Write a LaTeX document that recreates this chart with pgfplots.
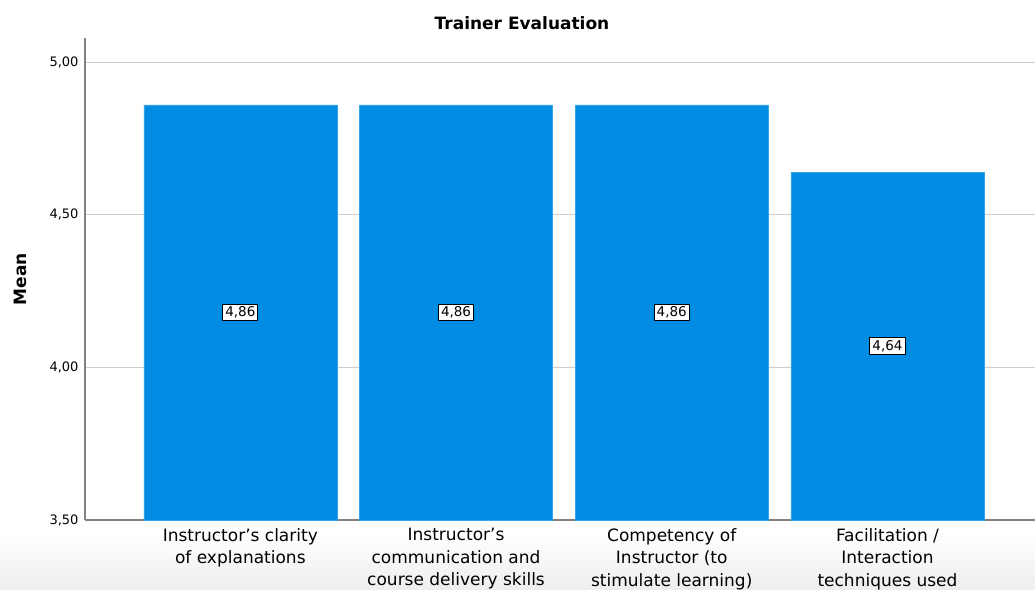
\documentclass[border=0pt]{standalone}
\usepackage{pgfplots}
\pgfplotsset{compat=1.18}
\usepackage{fontspec}
\setmainfont{DejaVu Sans}
\definecolor{barblue}{RGB}{0,140,226}
\definecolor{gridgray}{RGB}{205,205,205}
\definecolor{axisgray}{RGB}{130,130,130}
\definecolor{fadegray}{RGB}{238,238,238}
\begin{document}
\begin{tikzpicture}
\useasboundingbox (0pt,0pt) rectangle (1035pt,589pt);
\shade[top color=white, bottom color=fadegray] (0pt,0pt) rectangle (1035pt,55pt);
\begin{axis}[
  at={(85pt,69pt)}, anchor=south west,
  scale only axis, width=950pt, height=482pt,
  xmin=-0.72, xmax=3.684,
  ymin=3.5, ymax=5.079,
  axis lines=left,
  axis line style={axisgray, line width=1.2pt, -},
  ytick={3.5,4,4.5,5},
  ymajorgrids, grid style={gridgray, line width=1.2pt},
  major tick length=0pt,
  /pgf/number format/.cd, fixed, fixed zerofill, precision=2, use comma, assume math mode=true,
  /pgfplots/.cd,
  yticklabel style={font=\fontsize{13}{15}\selectfont, xshift=-3pt},
  xtick={0,1,2,3},
  xticklabels={{Instructor’s clarity\\of explanations},{Instructor’s\\communication and\\course delivery skills},{Competency of\\Instructor (to\\stimulate learning)},{Facilitation /\\Interaction\\techniques used}},
  xticklabel style={font=\fontsize{17}{22.5}\selectfont, align=center, anchor=north, yshift=-5pt},
  ylabel={\textbf{Mean}},
  every axis y label/.style={at={(axis description cs:0,0.5)}, xshift=-65pt, rotate=90, anchor=center, font=\fontsize{17}{20}\selectfont},
  ybar, bar width=193pt,
  bar shift=0pt,
  visualization depends on=rawy \as \rawy,
  nodes near coords,
  nodes near coords style={font=\fontsize{13.5}{15}\selectfont, fill=white, draw=black, line width=0.9pt, inner sep=2.6pt, anchor=center, yshift={-(\rawy-3.5)*152.65pt}},
  clip=false,
]
\addplot[fill=barblue, draw=barblue!80!white, line width=0.6pt] coordinates {(0,4.86) (1,4.86) (2,4.86) (3,4.64)};
\end{axis}
\node[font=\fontsize{17}{20}\selectfont\bfseries] at (522pt,566pt) {Trainer Evaluation};
\end{tikzpicture}
\end{document}
